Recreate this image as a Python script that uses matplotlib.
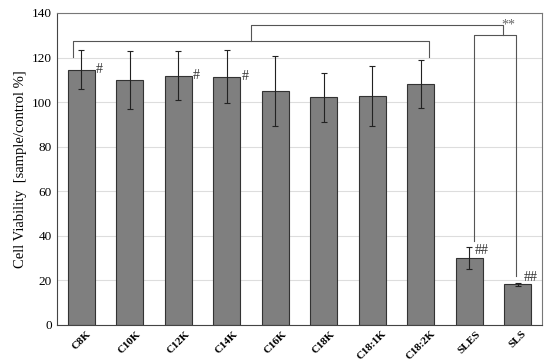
import matplotlib.pyplot as plt
import numpy as np

# Dados
amostras = ['C8K', 'C10K', 'C12K', 'C14K', 'C16K', 'C18K', 'C18:1K', 'C18:2K', 'SLES', 'SLS']
viabilidade = [114.5, 110.0, 111.8, 111.5, 105.0, 102.2, 102.8, 108.2, 30.0, 18.2]
desvio = [8.7, 13.0, 11.0, 12.0, 15.5, 11.0, 13.5, 10.7, 5.0, 0.5]
marcas = ['#', '', '#', '#', '', '', '', '', '##', '##']

plt.rcParams['font.family'] = ['Liberation Serif', 'DejaVu Serif']

fig = plt.figure(figsize=(5.5, 3.63), dpi=100)
ax = fig.add_axes([0.1036, 0.1047, 0.882, 0.8595])

x = np.arange(len(amostras))
ax.bar(x, viabilidade, width=0.55, color='#7f7f7f', edgecolor='#333333', linewidth=0.8, zorder=2)
ax.errorbar(x, viabilidade, yerr=desvio, fmt='none', ecolor='#222222', elinewidth=0.8,
            capsize=2, capthick=0.8, zorder=3)

# Marcas de significância
for i, m in enumerate(marcas):
    if not m:
        continue
    if m == '#':
        ax.text(x[i] + 0.30, viabilidade[i], m, fontsize=10, ha='left', va='center', color='#333333')
    else:
        ax.text(x[i] + 0.12, viabilidade[i] + 3.3, m, fontsize=10, ha='left', va='center', color='#333333')

# Colchetes
cor = '#555555'
ax.plot([-0.18, -0.18, 7.16, 7.16], [120.3, 127.4, 127.4, 120.3], color=cor, lw=0.8, zorder=1)
meio = (-0.18 + 7.16) / 2
ax.plot([meio, meio, 8.7, 8.7], [127.4, 134.6, 134.6, 130.3], color=cor, lw=0.8, zorder=1)
ax.plot([8.1, 8.1, 8.97, 8.97], [37.7, 130.3, 130.3, 22.0], color=cor, lw=0.8, zorder=1)
ax.text(8.80, 134.7, '**', fontsize=10, ha='center', va='center', color='#666666')

ax.set_xlim(-0.5, len(amostras) - 0.5)
ax.set_ylim(0, 140)
ax.set_yticks(np.arange(0, 141, 20))
ax.yaxis.grid(True, color='#dddddd', linewidth=0.8, zorder=0)
ax.set_axisbelow(True)
ax.tick_params(axis='both', length=0, labelsize=9.5)
ax.tick_params(axis='x', pad=3)
ax.set_xticks(x)
ax.set_xticklabels(amostras, rotation=45, fontweight='bold', fontsize=8, ha='center', va='top')
ax.set_ylabel('Cell Viability  [sample/control %]', fontsize=10.5)

for lado in ['top', 'right']:
    ax.spines[lado].set_color('#777777')
for lado in ['left', 'bottom']:
    ax.spines[lado].set_color('#444444')

plt.savefig('out.png', dpi=100)
plt.close()
